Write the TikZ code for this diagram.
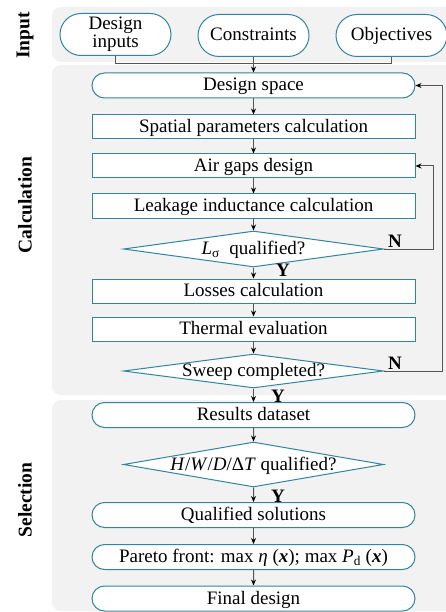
\documentclass[tikz,border=0pt]{standalone}
\usepackage{fontspec}
\setmainfont{Liberation Serif}
\usetikzlibrary{shapes.geometric,shapes.misc,arrows.meta}
\definecolor{nodeedge}{HTML}{31859C}
\definecolor{panelgray}{HTML}{F2F2F2}
\definecolor{linegray}{HTML}{555555}
\tikzset{
  txt/.style={font=\fontsize{19}{18}\selectfont},
  base/.style={txt, draw=nodeedge, line width=1pt, fill=white, inner sep=0pt},
  one/.style={text height=14pt, text depth=3pt},
  pill/.style={base, one, rounded rectangle, minimum width=323pt, minimum height=25pt},
  box/.style={base, one, rectangle, minimum width=323pt, minimum height=24pt},
  dia/.style={base, one, diamond, minimum width=260pt},
  inbox/.style={base, rounded rectangle, minimum width=111pt, minimum height=42pt, align=center},
  panel/.style={fill=panelgray, draw=none, rounded corners=9pt},
  conn/.style={draw=linegray, line width=1pt},
  arr/.style={conn, -{Stealth[length=6pt,width=5pt,black]}},
  yn/.style={font=\fontsize{19}{20}\selectfont\bfseries, inner sep=0pt},
  side/.style={font=\fontsize{19.5}{20}\selectfont\bfseries, rotate=90, inner sep=0pt},
}
\begin{document}
\begin{tikzpicture}[x=1pt,y=-1pt]
\useasboundingbox (0,0) rectangle (446,612);
\clip (0,0) rectangle (446,612);
% panels
\fill[panel] (52,7) rectangle (470,62);
\fill[panel] (52,65) rectangle (470,395);
\fill[panel] (52,400) rectangle (470,611);
% side labels
\node[side] (lin) at (25,35.5) {Input};
\node[side] (lca) at (25,205) {Calculation};
\node[side] (lse) at (25,500) {Selection};
% input nodes
\node[inbox] (di) at (115.5,34.5) {Design\\inputs};
\node[inbox, one] (co) at (253.5,35.5) {Constraints};
\node[inbox, one] (ob) at (391.5,35.5) {Objectives};
% calculation
\node[pill] (ds) at (253.5,85.5) {Design space};
\node[box] (sp) at (253.5,127) {Spatial parameters calculation};
\node[box] (ag) at (253.5,166) {Air gaps design};
\node[box] (lk) at (253.5,206) {Leakage inductance calculation};
\node[dia, minimum height=36pt] (d1) at (253.5,249) {\makebox[0pt]{\textit{L}\textsubscript{σ}~ qualified?}};
\node[box] (lo) at (253.5,291) {Losses calculation};
\node[box] (th) at (253.5,329) {Thermal evaluation};
\node[dia, minimum height=34pt] (d2) at (253.5,371) {\makebox[0pt]{Sweep completed?}};
% selection
\node[pill] (rd) at (253.5,415) {Results dataset};
\node[dia, minimum height=45pt] (d3) at (253.5,464.5) {\makebox[0pt]{\textit{H}/\textit{W}/\textit{D}/Δ\textit{T} qualified?}};
\node[pill] (qs) at (253.5,515) {Qualified solutions};
\node[pill] (pf) at (253.5,557) {Pareto front: max \textit{η} (\textbf{\textit{x}}); max \textit{P}\textsubscript{d} (\textbf{\textit{x}})};
\node[pill] (fd) at (253.5,598.5) {Final design};
% labels
\node[yn] (n1) at (395,241) {N};
\node[yn] (y1) at (283,270) {Y};
\node[yn] (n2) at (395,363) {N};
\node[yn] (y2) at (278,396) {Y};
\node[yn] (y3) at (278,496) {Y};
% connectors
\draw[conn] (di.south) -- ++(0,7.5) -| (ob.south);
\draw[arr] (co.south) -- (ds.north);
\draw[arr] (ds) -- (sp);
\draw[arr] (sp) -- (ag);
\draw[arr] (ag) -- (lk);
\draw[arr] (lk) -- (d1);
\draw[arr] (d1) -- (lo);
\draw[arr] (lo) -- (th);
\draw[arr] (th) -- (d2);
\draw[arr] (d2) -- (rd);
\draw[arr] (rd) -- (d3);
\draw[arr] (d3) -- (qs);
\draw[arr] (qs) -- (pf);
\draw[arr] (pf) -- (fd);
\draw[arr] (d1.east) -- ++(49,0) |- (ag.east);
\draw[arr] (d2.east) -- ++(58,0) |- (ds.east);
\end{tikzpicture}
\end{document}
